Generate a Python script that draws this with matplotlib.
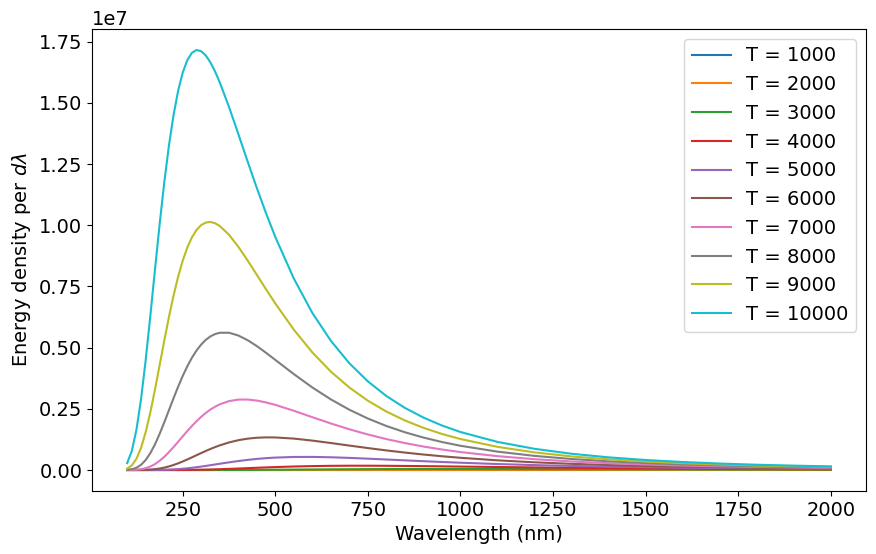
import matplotlib
matplotlib.use("Agg")
import matplotlib.pyplot as plt

# wavelength samples (nm)
wavelength = [100, 112.5, 125, 137.5, 150, 162.5, 175, 187.5, 200, 212.5, 225,
              237.5, 250, 262.5, 275, 287.5, 300, 312.5, 325, 337.5, 350,
              375, 400, 425, 450, 475, 500,
              550, 600, 650, 700, 750, 800, 850, 900, 950, 1000,
              1100, 1200, 1300, 1400, 1500, 1600, 1700, 1800, 1900, 2000]

# energy density per d(lambda), one list per temperature
u_1000 = [0, 0, 0, 0, 0, 0, 0, 0, 0, 0, 0, 0, 0, 0, 0, 0, 0, 0, 0, 0, 0,
          0, 0, 0, 0, 0, 5.1e-5,
          4.3e-4, 2.47e-3, 1.05e-2, 3.52e-2, 9.81e-2, 0.236, 0.501, 0.964, 1.71, 2.82,
          6.47, 12.45, 20.98, 31.95, 44.89, 59.2, 74.21, 89.28, 103.8, 117.3]
u_2000 = [0, 0, 0, 0, 0, 0, 0, 0, 0, 2.3e-5, 1.1e-4, 4.6e-4, 1.6e-3, 5.02e-3, 1.38e-2,
          3.45e-2, 7.91e-2, 0.168, 0.335, 0.630, 1.126,
          3.14, 7.54, 16.0, 30.9, 54.6, 90.1,
          207.0, 398.4, 671.6, 1022.2, 1436.4, 1893.9, 2374.8, 2855.4, 3320.1, 3752.3,
          4483.8, 5009.7, 5331.9, 5477.4, 5477.0, 5368.8, 5182.5, 4946.6, 4678.5, 4396.0]
u_3000 = [0, 0, 3.6e-6, 7.2e-5, 8.5e-4, 6.7e-3, 0.038, 0.168, 0.601, 1.82, 4.79,
          11.22, 23.83, 46.55, 84.63, 144.6, 234.2, 362.1, 537.1, 768.1, 1063.8,
          1878.6, 3025.4, 4522.9, 6361.9, 8506.0, 10904.0,
          16199.0, 21689.0, 26888.0, 31458.0, 35200.0, 38035.0, 40024.0, 41195.0, 41684.0, 41590.0,
          40122.0, 37553.0, 34458.0, 31204.0, 28015.0, 25011.0, 22256.0, 19775.0, 17560.0, 15598.0]
u_4000 = [1.2e-4, 3.6e-3, 0.0521, 0.442, 2.53, 10.73, 36.0, 100.4, 241.2, 513.1, 987.0,
          1747.6, 2883.8, 4482.6, 6622.6, 9365.0, 12747.0, 16798.0, 21490.0, 26810.0, 32703.0,
          45965.0, 60620.0, 75990.0, 91380.0, 106220.0, 120040.0,
          143490.0, 160330.0, 170650.0, 175260.0, 175270.0, 171740.0, 165850.0, 158260.0, 149700.0, 140670.0,
          122450.0, 105380.0, 90170.0, 76980.0, 65730.0, 56210.0, 48180.0, 41430.0, 35747.0, 30949.0]
u_5000 = [0.159, 2.157, 16.44, 82.77, 306.4, 898.1, 2196.0, 4656.0, 8800.0, 15151.0, 24158.0,
          36139.0, 51270.0, 69473.0, 90610.0, 114356.0, 140240.0, 167850.0, 196640.0, 226000.0, 255490.0,
          313140.0, 366430.0, 413310.0, 452650.0, 483920.0, 507300.0,
          532800.0, 534900.0, 520300.0, 495100.0, 463600.0, 429200.0, 394360.0, 360230.0, 327830.0, 297660.0,
          244450.0, 200580.0, 164990.0, 136300.0, 113150.0, 94450.0, 79290.0, 66950.0, 56840.0, 48520.0]
u_6000 = [19.2, 153.2, 762.6, 2708.0, 7495.0, 17185.0, 34035.0, 60110.0, 96810.0, 144740.0, 203580.0,
          272270.0, 349000.0, 431810.0, 518400.0, 606460.0, 693900.0, 779160.0, 860500.0, 936600.0, 1006600.0,
          1126400.0, 1217500.0, 1280600.0, 1318400.0, 1333700.0, 1330500.0,
          1283900.0, 1201800.0, 1102700.0, 998400.0, 896500.0, 800100.0, 712200.0, 632700.0, 561900.0, 499200.0,
          395100.0, 314600.0, 252430.0, 204250.0, 166570.0, 136960.0, 113470.0, 94720.0, 79600.0, 67330.0]
u_7000 = [591.0, 3219.0, 11817.0, 32709.0, 73580.0, 141470.0, 241000.0, 373600.0, 536800.0, 725670.0, 933300.0,
          1152130.0, 1374200.0, 1593000.0, 1802300.0, 1997700.0, 2175300.0, 2333900.0, 2472100.0, 2588200.0, 2683400.0,
          2815600.0, 2876500.0, 2880000.0, 2838000.0, 2762000.0, 2662000.0,
          2420700.0, 2158300.0, 1901800.0, 1664200.0, 1451200.0, 1263200.0, 1100300.0, 959000.0, 837600.0, 733000.0,
          565700.0, 441400.0, 348300.0, 277800.0, 223870.0, 182190.0, 149580.0, 123880.0, 103390.0, 86920.0]
u_8000 = [7718.0, 31587.0, 92290.0, 211930.0, 408000.0, 687600.0, 1046500.0, 1470800.0, 1940000.0, 2431800.0, 2924000.0,
          3400700.0, 3842000.0, 4241800.0, 4591000.0, 4888200.0, 5130000.0, 5320500.0, 5462000.0, 5555600.0, 5608000.0,
          5609000.0, 5497000.0, 5307000.0, 5065000.0, 4790000.0, 4500000.0,
          3919000.0, 3373000.0, 2886000.0, 2463000.0, 2103000.0, 1798000.0, 1542000.0, 1325700.0, 1143800.0, 990400.0,
          750600.0, 577100.0, 449800.0, 355200.0, 283800.0, 229200.0, 187000.0, 154000.0, 127850.0, 107010.0]
u_9000 = [56910.0, 186660.0, 456500.0, 906400.0, 1546000.0, 2352000.0, 3279000.0, 4270400.0, 5270000.0, 6230000.0, 7112000.0,
          7891000.0, 8553000.0, 9093000.0, 9511000.0, 9813000.0, 10010000.0, 10112500.0, 10135000.0, 10082000.0, 9972000.0,
          9613000.0, 9126000.0, 8568000.0, 7978000.0, 7385000.0, 6806000.0,
          5735000.0, 4805000.0, 4021000.0, 3370000.0, 2832000.0, 2388000.0, 2024000.0, 1722500.0, 1472600.0, 1264900.0,
          945800.0, 719200.0, 555500.0, 435200.0, 345400.0, 277400.0, 225200.0, 184680.0, 152780.0, 127450.0]
u_10000 = [281600.0, 773000.0, 1641000.0, 2899600.0, 4489000.0, 6291000.0, 8175000.0, 10020000.0, 11726000.0, 13227000.0, 14485000.0,
           15487000.0, 16239000.0, 16751000.0, 17050000.0, 17163000.0, 17110000.0, 16936000.0, 16650000.0, 16279000.0, 15840000.0,
           14835000.0, 13737000.0, 12618000.0, 11527000.0, 10490000.0, 9522000.0,
           7823000.0, 6419000.0, 5280000.0, 4361000.0, 3621000.0, 3022000.0, 2537000.0, 2142000.0, 1819000.0, 1552500.0,
           1148600.0, 865800.0, 664100.0, 517200.0, 408400.0, 326600.0, 264100.0, 215800.0, 178000.0, 148100.0]

temperatures = [1000, 2000, 3000, 4000, 5000, 6000, 7000, 8000, 9000, 10000]
curves = [u_1000, u_2000, u_3000, u_4000, u_5000, u_6000, u_7000, u_8000, u_9000, u_10000]

plt.rcParams["font.size"] = 14
fig, ax = plt.subplots(figsize=(8.76, 5.54), dpi=100)
fig.subplots_adjust(left=0.105, right=0.9886, top=0.9477, bottom=0.1137)

for T, u in zip(temperatures, curves):
    ax.plot(wavelength, u, label=f"T = {T}")

ax.set_xlabel("Wavelength (nm)")
ax.set_ylabel(r"Energy density per $d\lambda$")
ax.legend(loc="upper right", fontsize=14)

fig.savefig("out.png", dpi=100)
plt.close(fig)
